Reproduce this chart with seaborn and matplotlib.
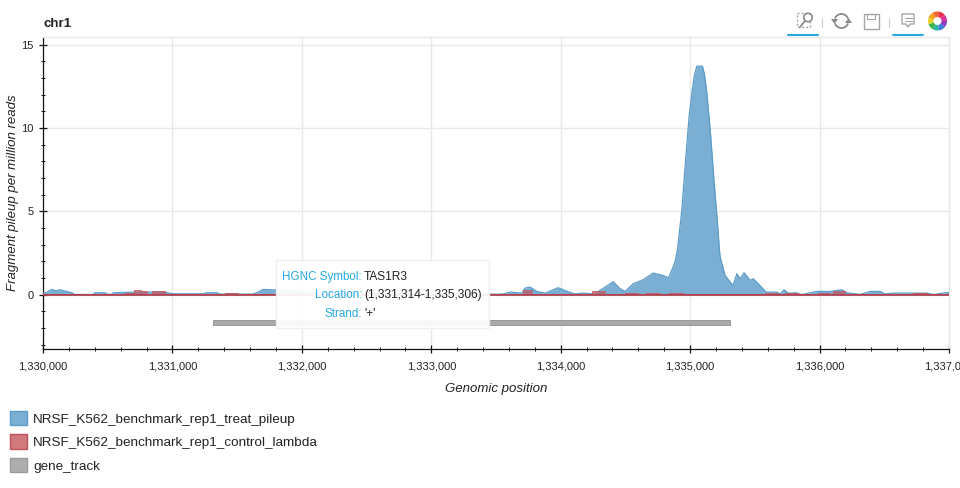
import numpy as np
import pandas as pd
import matplotlib
matplotlib.use('Agg')
import matplotlib.pyplot as plt
from matplotlib.patches import Patch, Rectangle, Wedge, Circle, Polygon, Arc
from matplotlib.ticker import FuncFormatter, MultipleLocator
import seaborn as sns

# values
treat_pos = [1330000, 1330030, 1330067, 1330100, 1330131, 1330170, 1330222, 1330245, 1330388, 1330400, 1330480,
             1330500, 1330530, 1330545, 1330633, 1330650, 1330840, 1330940, 1331000, 1331240, 1331260, 1331345,
             1331365, 1331620, 1331660, 1331700, 1331760, 1331850, 1332000, 1332200, 1332400, 1332700, 1333000,
             1333300, 1333450, 1333500, 1333560, 1333609, 1333699, 1333725, 1333763, 1333815, 1333879, 1333980,
             1334065, 1334110, 1334170, 1334260, 1334343, 1334405, 1334459, 1334498, 1334560, 1334637, 1334714,
             1334782, 1334833, 1334858, 1334884, 1334902, 1334936, 1334961, 1334992, 1335013, 1335033, 1335052,
             1335095, 1335111, 1335129, 1335155, 1335186, 1335211, 1335226, 1335232, 1335270, 1335309, 1335332,
             1335361, 1335386, 1335417, 1335464, 1335487, 1335526, 1335587, 1335670, 1335696, 1335726, 1335757,
             1335819, 1335863, 1335979, 1336082, 1336172, 1336213, 1336313, 1336391, 1336468, 1336507, 1336569,
             1336723, 1336831, 1336878, 1336955, 1337002]
treat_val = [0.1, 0.15, 0.32, 0.24, 0.3, 0.22, 0.12, 0.02, 0.02, 0.12, 0.12,
             0.03, 0.03, 0.12, 0.14, 0.15, 0.16, 0.16, 0.06, 0.06, 0.12, 0.12,
             0.04, 0.04, 0.15, 0.32, 0.3, 0.28, 0.2, 0.1, 0.04, 0.06, 0.04,
             0.06, 0.04, 0.03, 0.05, 0.16, 0.1, 0.4, 0.46, 0.2, 0.1, 0.42,
             0.16, 0.05, 0.1, 0.05, 0.46, 0.78, 0.36, 0.2, 0.66, 0.9, 1.3,
             1.18, 1.02, 1.46, 2.0, 2.7, 5.09, 7.68, 10.68, 12.08, 13.17, 13.7,
             13.7, 13.2, 12.08, 9.88, 6.7, 4.3, 2.7, 2.26, 1.16, 0.76, 0.56,
             1.26, 0.96, 1.32, 0.86, 0.96, 0.66, 0.16, 0.16, 0.05, 0.3, 0.1,
             0.12, 0.01, 0.2, 0.2, 0.3, 0.12, 0.02, 0.2, 0.2, 0.05, 0.1,
             0.1, 0.1, 0.01, 0.1, 0.15]

control_pos = [1330000, 1330633, 1330700, 1330760, 1330800, 1330842, 1330943, 1331050, 1331200, 1331406, 1331507,
               1333709, 1333779, 1334243, 1334343, 1334498, 1334598, 1334660, 1334768, 1334838, 1334946,
               1335580, 1335680, 1335734, 1335835, 1335985, 1336082, 1336105, 1336198, 1336600, 1336700, 1336723,
               1336831, 1337002]
control_val = [0.02, 0.13, 0.28, 0.2, 0.02, 0.2, 0.02, 0.05, 0.02, 0.12, 0.02,
               0.3, 0.02, 0.2, 0.02, 0.1, 0.02, 0.08, 0.02, 0.08, 0.02,
               0.12, 0.02, 0.1, 0.02, 0.08, 0.02, 0.2, 0.02, 0.06, 0.02, 0.08,
               0.02, 0.02]

gene_start, gene_end = 1331314, 1335306
gene_bottom, gene_top = -1.8, -1.5
hgnc_labels = ['HGNC Symbol:', 'Location:', 'Strand:']
hgnc_values = ['TAS1R3', '(1,331,314-1,335,306)', "'+'"]
legend_names = ['NRSF_K562_benchmark_rep1_treat_pileup', 'NRSF_K562_benchmark_rep1_control_lambda', 'gene_track']

sns.set_theme(style='whitegrid')
plt.rcParams['font.family'] = ['Liberation Sans', 'DejaVu Sans']

W, H = 960, 488
fig = plt.figure(figsize=(W / 100, H / 100), dpi=100)
ax = fig.add_axes([43 / W, 1 - 349 / H, (949 - 43) / W, (349 - 37) / H])

treat = pd.DataFrame({'pos': treat_pos, 'val': treat_val})
control = pd.DataFrame({'pos': control_pos, 'val': control_val})

# pileup
ax.fill_between(treat['pos'], 0, treat['val'], color='#7aaed3', lw=0, zorder=2)
sns.lineplot(data=treat, x='pos', y='val', ax=ax, color='#5b9cc8', lw=0.9, zorder=3, estimator=None)

# lambda
ax.fill_between(control['pos'], 0, control['val'], step='post', color='#c8505a', alpha=0.65, lw=0, zorder=4)
sns.lineplot(data=control, x='pos', y='val', ax=ax, color='#c0606a', lw=0.5, zorder=5, estimator=None,
             drawstyle='steps-post')
ax.plot([1330000, 1337002], [0, 0], color='#b23a48', lw=1.2, zorder=6)

# gene
ax.fill_between([gene_start, gene_end], gene_bottom, gene_top, facecolor='#aaaaaa', edgecolor='#999999', lw=0.7, zorder=2)

ax.set_xlim(1330000, 1337000)
ax.set_ylim(-3.25, 15.45)
ax.xaxis.set_major_locator(MultipleLocator(1000))
ax.xaxis.set_minor_locator(MultipleLocator(200))
ax.yaxis.set_major_locator(MultipleLocator(5))
ax.yaxis.set_minor_locator(MultipleLocator(1))
ax.xaxis.set_major_formatter(FuncFormatter(lambda v, p: f'{int(v):,}'))
ax.yaxis.set_major_formatter(FuncFormatter(lambda v, p: f'{int(v)}'))

ax.grid(True, which='major', color='#e8e8e8', lw=1)
ax.grid(False, which='minor')
ax.tick_params(axis='both', which='major', length=5.5, width=0.9, color='#111111', direction='inout',
               labelsize=8, labelcolor='#222222', bottom=True, left=True)
ax.tick_params(axis='x', which='major', pad=6.5)
ax.tick_params(axis='y', which='major', pad=4)
ax.tick_params(axis='both', which='minor', length=3, width=0.7, color='#111111', direction='inout',
               bottom=True, left=True)
for side in ['left', 'bottom']:
    ax.spines[side].set_color('#111111')
    ax.spines[side].set_linewidth(0.9)
for side in ['top', 'right']:
    ax.spines[side].set_color('#e8e8e8')
    ax.spines[side].set_linewidth(1)

ax.set_xlabel('Genomic position', style='italic', fontsize=9.5, color='#222222', labelpad=8)
ax.set_ylabel('Fragment pileup per million reads', style='italic', fontsize=9.5, color='#222222', labelpad=1.5)
fig.text(43 / W, 1 - 24 / H, 'chr1', fontsize=9.5, fontweight='bold', color='#222222', va='center')

handles = [Patch(facecolor='#7aaed3', edgecolor='#5b9cc8'),
           Patch(facecolor='#d07a7d', edgecolor='#c0505a'),
           Patch(facecolor='#aeaeae', edgecolor='#9a9a9a')]
fig.legend(handles, legend_names, loc='upper left', bbox_to_anchor=(10 / W, 1 - 411 / H), frameon=False,
           fontsize=9.7, handlelength=1.27, handleheight=1.27, labelspacing=0.65, handletextpad=0.45,
           borderpad=0, borderaxespad=0, labelcolor='#222222')

# overlay in pixels, for the hover box and the toolbar
over = fig.add_axes([0, 0, 1, 1], zorder=10)
over.set_xlim(0, W)
over.set_ylim(H, 0)
over.axis('off')
over.patch.set_alpha(0)

over.add_patch(Rectangle((276, 260), 213, 68, facecolor='white', edgecolor='#eeeeee', alpha=0.93, lw=1))
for y, lab, val in zip([277, 295, 314], hgnc_labels, hgnc_values):
    over.text(362, y, lab, ha='right', va='center', fontsize=8.4, color='#26aae1')
    over.text(364, y, val, ha='left', va='center', fontsize=8.6, color='#222222')

icon = '#a5a5a5'
blue = '#26aae1'
over.plot([788, 818], [34.5, 34.5], color=blue, lw=1.5)
over.plot([893, 923], [34.5, 34.5], color=blue, lw=1.5)
over.plot([822, 822], [18, 27], color='#cccccc', lw=0.8)
over.plot([889, 889], [18, 27], color='#cccccc', lw=0.8)

# zoom
over.add_patch(Rectangle((797, 13), 13, 14, fill=False, edgecolor=icon, lw=1, ls=(0, (1.5, 1.5))))
over.add_patch(Circle((808, 17.5), 4.2, facecolor='white', edgecolor='#8a8a8a', lw=1.2))
over.plot([805, 800], [21, 27], color='#8a8a8a', lw=1.3)
# refresh
over.add_patch(Arc((841.5, 21), 14, 14, theta1=200, theta2=340, edgecolor='#8a8a8a', lw=1.3))
over.add_patch(Arc((841.5, 21), 14, 14, theta1=20, theta2=160, edgecolor='#8a8a8a', lw=1.3))
over.add_patch(Polygon([[831, 19], [838, 19], [834.5, 24]], facecolor='#8a8a8a', lw=0))
over.add_patch(Polygon([[845, 23], [852, 23], [848.5, 18]], facecolor='#8a8a8a', lw=0))
# save
over.add_patch(Rectangle((863.5, 13.5), 15, 15, fill=False, edgecolor=icon, lw=1))
over.add_patch(Rectangle((867, 13.5), 8, 5, fill=False, edgecolor=icon, lw=0.8))
# hover
over.add_patch(Polygon([[902, 14], [914, 14], [914, 24], [910, 24], [908, 27], [906, 24], [902, 24]],
                       fill=False, edgecolor=icon, lw=1))
over.plot([904.5, 911.5], [17.5, 17.5], color=icon, lw=0.8)
over.plot([904.5, 911.5], [20.5, 20.5], color=icon, lw=0.8)
# logo
colors = ['#8e3cc4', '#3b7fd6', '#28b8a8', '#3bb44a', '#e8d02b', '#f5a01b', '#f0662c', '#e8304c', '#d8369c']
for i, c in enumerate(colors):
    over.add_patch(Wedge((937.5, 21), 9.5, 40 * i, 40 * i + 40, width=5.5, facecolor=c, lw=0))

fig.savefig('out.png', dpi=100)
